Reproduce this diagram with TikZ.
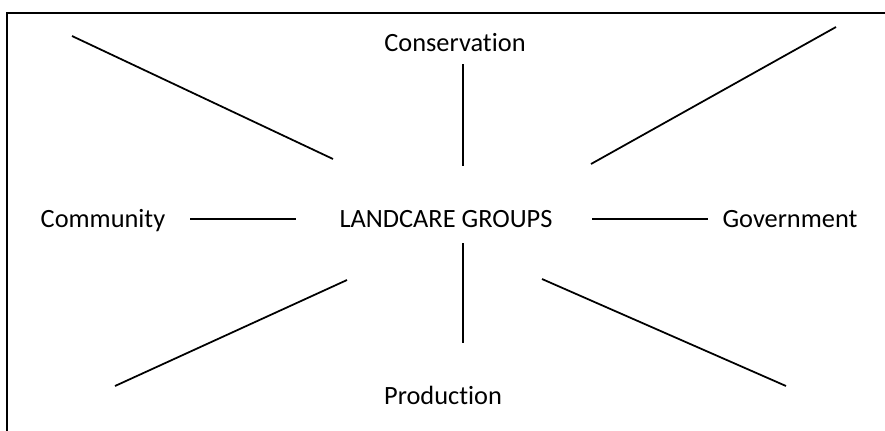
\documentclass[tikz,border=0pt]{standalone}
\usepackage{fontspec}
\setmainfont[Ligatures=NoCommon]{Carlito}
\usetikzlibrary{positioning,calc}

\begin{document}
\begin{tikzpicture}[line width=1pt,every node/.style={font=\fontsize{15}{18}\selectfont,anchor=base}]
\useasboundingbox (0,0) rectangle (17.7,-8.6);
\clip (0,0) rectangle (17.7,-8.6);
\draw[line width=1.2pt] (0.14,-0.26) rectangle (18,-9);

\node (lc-groups) at (8.92,-4.55) {LANDCARE GROUPS};
\node (lc-cons) at (9.1,-1.02) {Conservation};
\node (lc-comm) at (2.06,-4.55) {Community};
\node (lc-gov) at (15.8,-4.55) {Government};
\node (lc-prod) at (8.86,-8.08) {Production};

\coordinate (lc-n1) at (9.26,-1.28);
\coordinate (lc-n2) at (9.26,-3.32);
\coordinate (lc-s1) at (9.26,-4.86);
\coordinate (lc-s2) at (9.26,-6.86);
\coordinate (lc-w1) at (3.8,-4.38);
\coordinate (lc-w2) at (5.92,-4.38);
\coordinate (lc-e1) at (11.84,-4.38);
\coordinate (lc-e2) at (14.16,-4.38);
\coordinate (lc-nw1) at (1.44,-0.72);
\coordinate (lc-nw2) at (6.66,-3.18);
\coordinate (lc-ne1) at (11.82,-3.28);
\coordinate (lc-ne2) at (16.72,-0.54);
\coordinate (lc-sw1) at (2.3,-7.72);
\coordinate (lc-sw2) at (6.94,-5.6);
\coordinate (lc-se1) at (10.84,-5.58);
\coordinate (lc-se2) at (15.72,-7.72);

\draw (lc-n1) -- (lc-n2);
\draw (lc-s1) -- (lc-s2);
\draw (lc-w1) -- (lc-w2);
\draw (lc-e1) -- (lc-e2);
\draw (lc-nw1) -- (lc-nw2);
\draw (lc-ne1) -- (lc-ne2);
\draw (lc-sw1) -- (lc-sw2);
\draw (lc-se1) -- (lc-se2);
\end{tikzpicture}
\end{document}
